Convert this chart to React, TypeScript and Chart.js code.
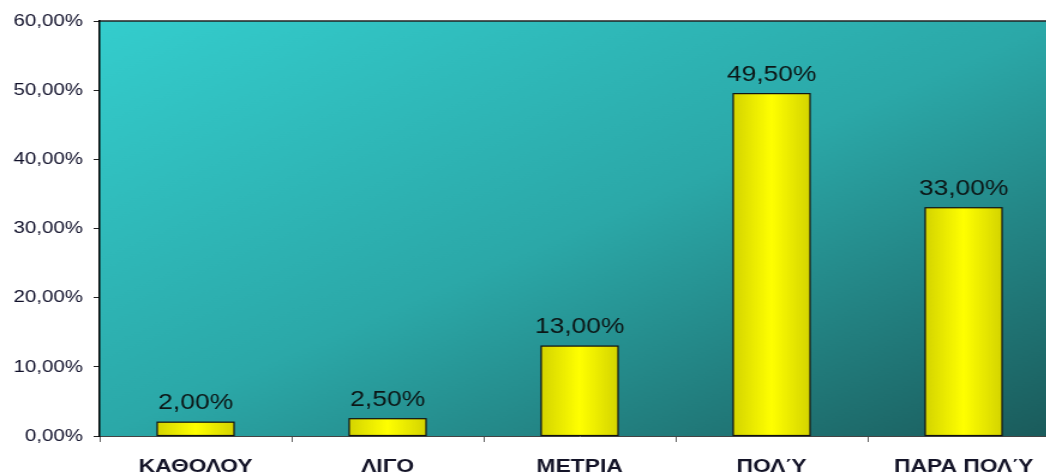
import React, { useEffect, useRef } from "react";
import { Chart, registerables } from "chart.js";

Chart.register(...registerables);

const categories = ["ΚΑΘΟΛΟΥ", "ΛΙΓΟ", "ΜΕΤΡΙΑ", "ΠΟΛΎ", "ΠΑΡΑ ΠΟΛΎ"];
const values = [2.0, 2.5, 13.0, 49.5, 33.0];
const yMin = 0;
const yMax = 60;
const yStep = 10;

const fmt = (v: number) => v.toFixed(2).replace(".", ",") + "%";

const bgPlugin = {
  id: "bgPlugin",
  beforeDraw(chart: any) {
    const { ctx, chartArea: a } = chart;
    const w = a.right - a.left;
    const h = a.bottom - a.top;
    ctx.save();
    ctx.translate(a.left, a.top);
    ctx.scale(w, h);
    const g = ctx.createLinearGradient(0, 0, 1, 1);
    g.addColorStop(0, "#34cdcd");
    g.addColorStop(0.5, "#2ba8a8");
    g.addColorStop(1, "#1a5a5a");
    ctx.fillStyle = g;
    ctx.fillRect(0, 0, 1, 1);
    ctx.restore();
    ctx.save();
    ctx.strokeStyle = "#222";
    ctx.lineWidth = 1.5;
    ctx.beginPath();
    ctx.moveTo(a.left, a.top);
    ctx.lineTo(a.right, a.top);
    ctx.stroke();
    ctx.restore();
  },
};

const barPlugin = {
  id: "barPlugin",
  afterDatasetsDraw(chart: any) {
    const { ctx } = chart;
    const meta = chart.getDatasetMeta(0);
    ctx.save();
    meta.data.forEach((el: any, i: number) => {
      const { x, y, base, width } = el.getProps(["x", "y", "base", "width"], true);
      const left = x - width / 2;
      const g = ctx.createLinearGradient(left, 0, left + width, 0);
      g.addColorStop(0, "#d4d400");
      g.addColorStop(0.5, "#ffff00");
      g.addColorStop(1, "#d4d400");
      ctx.fillStyle = g;
      ctx.fillRect(left, y, width, base - y);
      ctx.strokeStyle = "#111";
      ctx.lineWidth = 1.2;
      ctx.strokeRect(left, y, width, base - y);
      ctx.fillStyle = "#0c1616";
      ctx.font = '22px "Liberation Sans", Arial, sans-serif';
      ctx.textAlign = "center";
      ctx.textBaseline = "alphabetic";
      ctx.fillText(fmt(values[i]), x, y - 13);
    });
    ctx.restore();
  },
};

export default function App() {
  const ref = useRef<HTMLCanvasElement>(null);
  useEffect(() => {
    const chart = new Chart(ref.current as HTMLCanvasElement, {
      type: "bar",
      data: {
        labels: categories,
        datasets: [
          {
            data: values,
            backgroundColor: "#ffff00",
            borderColor: "#000",
            borderWidth: 1,
            barPercentage: 0.4,
            categoryPercentage: 1,
          },
        ],
      },
      options: {
        responsive: false,
        animation: false,
        devicePixelRatio: 1,
        layout: { padding: { top: 21, right: 2, left: 0, bottom: 0 } },
        plugins: { legend: { display: false }, tooltip: { enabled: false } },
        scales: {
          x: {
            grid: {
              display: true,
              drawOnChartArea: false,
              drawTicks: true,
              tickLength: 6,
              color: "#666",
              offset: true,
            },
            border: { display: true, color: "#444", width: 1 },
            ticks: {
              color: "#141428",
              font: { family: '"Liberation Sans", Arial, sans-serif', size: 19, weight: "bold" },
              padding: 13,
              maxRotation: 0,
              autoSkip: false,
            },
            afterFit: (s: any) => {
              s.height = 38;
            },
          },
          y: {
            min: yMin,
            max: yMax,
            ticks: {
              stepSize: yStep,
              callback: (v: any) => fmt(Number(v)),
              color: "#10102a",
              font: { family: '"Liberation Sans", Arial, sans-serif', size: 17 },
              padding: 9,
            },
            grid: { drawOnChartArea: false, tickLength: 5, color: "#222" },
            border: { display: true, color: "#000", width: 1.5 },
            afterFit: (s: any) => {
              s.width = 83;
            },
          },
        },
      },
      plugins: [bgPlugin, barPlugin],
    } as any);
    return () => chart.destroy();
  }, []);
  return (
    <div
      style={{
        position: "fixed",
        left: 0,
        top: 0,
        width: 1046,
        height: 474,
        overflow: "hidden",
        background: "#fff",
      }}
    >
      <canvas
        ref={ref}
        width={885}
        height={474}
        style={{
          width: 885,
          height: 474,
          display: "block",
          transform: "scaleX(1.2)",
          transformOrigin: "0 0",
        }}
      />
    </div>
  );
}
